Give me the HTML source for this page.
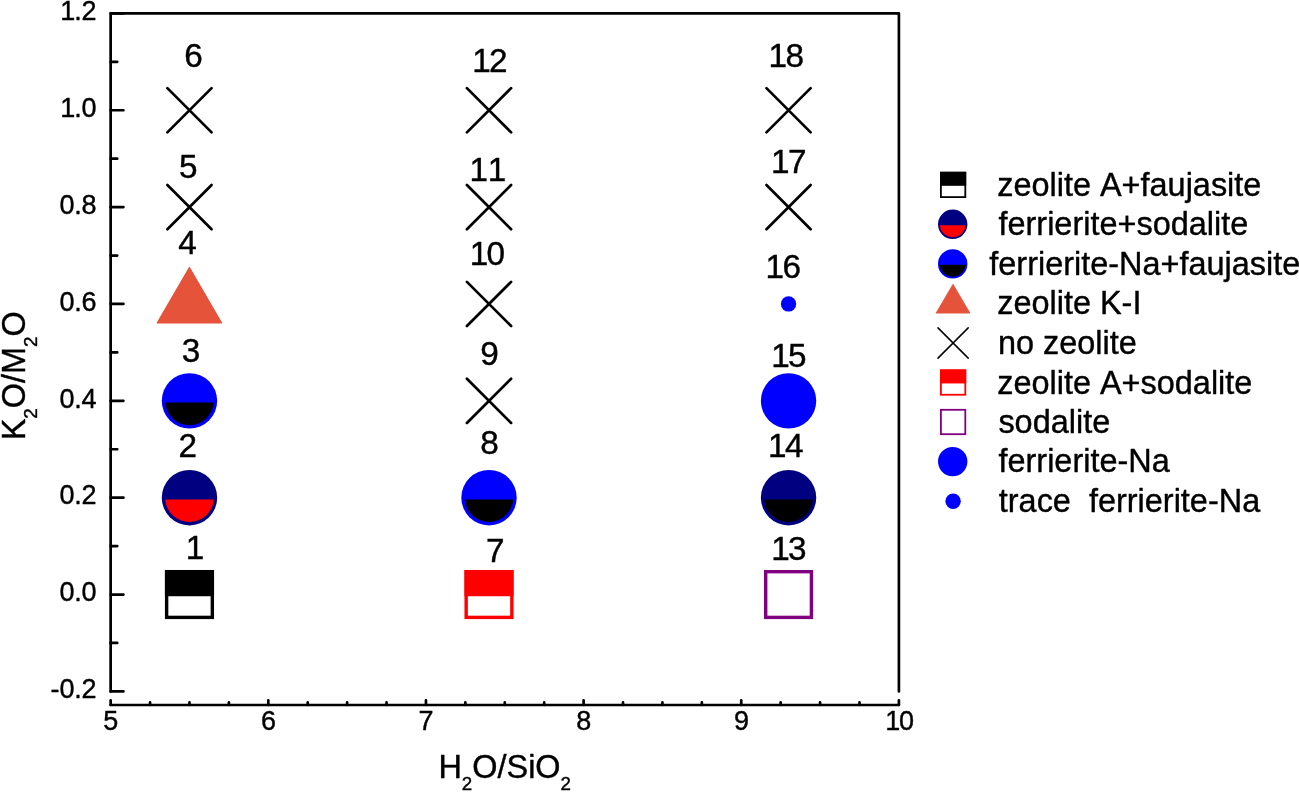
<!DOCTYPE html>
<html lang="en"><head><meta charset="utf-8"><title>K2O/M2O vs H2O/SiO2 zeolite phase chart</title>
<style>
html,body{margin:0;padding:0;background:#fff}
body{width:1299px;height:792px;overflow:hidden}
svg{display:block}
text{font-family:"Liberation Sans",Arial,Helvetica,sans-serif;fill:#000;stroke:#000;stroke-width:.4px;stroke-linejoin:round;font-kerning:none;white-space:pre}
.m{font-size:32.45px}
.t{font-size:26.55px}
.ax{stroke:#000;stroke-width:2.7;stroke-linecap:round;stroke-linejoin:round;fill:none}
</style></head><body>
<svg width="1299" height="792" viewBox="0 0 1299 792">
<rect width="1299" height="792" fill="#fff"/>

<g class="ax">
<path d="M110.65 691.4V13.4H898.9V691.4"/>
<path d="M110.65 705.0H898.9"/>
<path d="M110.65 691.40h12.8M110.65 642.97h6.6M110.65 594.54h12.8M110.65 546.11h6.6M110.65 497.69h12.8M110.65 449.26h6.6M110.65 400.83h12.8M110.65 352.40h6.6M110.65 303.97h12.8M110.65 255.54h6.6M110.65 207.11h12.8M110.65 158.69h6.6M110.65 110.26h12.8M110.65 61.83h6.6M110.65 13.40h12.8"/>
<path d="M110.65 705.0v-4.7M150.06 705.0v-2.6M189.48 705.0v-2.6M228.89 705.0v-2.6M268.30 705.0v-4.7M307.71 705.0v-2.6M347.12 705.0v-2.6M386.54 705.0v-2.6M425.95 705.0v-4.7M465.36 705.0v-2.6M504.77 705.0v-2.6M544.19 705.0v-2.6M583.60 705.0v-4.7M623.01 705.0v-2.6M662.42 705.0v-2.6M701.84 705.0v-2.6M741.25 705.0v-4.7M780.66 705.0v-2.6M820.07 705.0v-2.6M859.49 705.0v-2.6M898.90 705.0v-4.7"/>
</g>
<g class="t" style="font-size:27.0px">
<text x="50.6 59.4 74.2 81.5" y="698.1">-0.2</text>
<text x="59.4 74.2 81.5" y="601.2">0.0</text>
<text x="59.4 74.2 81.5" y="504.4">0.2</text>
<text x="59.4 74.2 81.5" y="407.5">0.4</text>
<text x="59.4 74.2 81.5" y="310.7">0.6</text>
<text x="59.4 74.2 81.5" y="213.8">0.8</text>
<text x="60.3 74.2 81.5" y="117.0">1.0</text>
<text x="60.3 74.2 81.5" y="20.1">1.2</text>
<text x="103.3" y="730.4">5</text>
<text x="261.0" y="730.4">6</text>
<text x="418.6" y="730.4">7</text>
<text x="576.3" y="730.4">8</text>
<text x="733.9" y="730.4">9</text>
<text x="885.2 899.0" y="730.4">10</text>
</g>
<text class="m" x="438.4" y="777.7">H<tspan font-size="18.8" dy="12.5">2</tspan><tspan dy="-12.5">O/SiO</tspan><tspan font-size="18.8" dy="12.5">2</tspan></text>
<text class="m" transform="translate(24.6 440.3) rotate(-90)">K<tspan font-size="18.8" dy="12.6">2</tspan><tspan dy="-12.6">O/M</tspan><tspan font-size="18.8" dy="12.6">2</tspan><tspan dy="-12.6">O</tspan></text>
<g>
<rect x="166.63" y="571.69" width="45.70" height="45.70" fill="#fff" stroke="#000" stroke-width="3.4"/><rect x="164.93" y="569.99" width="49.10" height="26.25" fill="#000"/>
<circle cx="189.48" cy="497.69" r="27.7" fill="#000080"/><path d="M165.23 499.39A24.30 24.30 0 0 0 213.72 499.39Z" fill="#ff0000"/>
<circle cx="189.48" cy="400.83" r="27.7" fill="#0000ff"/><path d="M165.23 402.53A24.30 24.30 0 0 0 213.72 402.53Z" fill="#000"/>
<path d="M189.40 267.60L221.50 322.90L157.30 322.90Z" fill="#e5533a" stroke="#e5533a" stroke-width="1.2" stroke-linejoin="round"/>
<path d="M167.38 185.01L211.58 229.21M167.38 229.21L211.58 185.01" stroke="#000" stroke-width="2.7" stroke-linecap="round" fill="none"/>
<path d="M167.38 88.16L211.58 132.36M167.38 132.36L211.58 88.16" stroke="#000" stroke-width="2.7" stroke-linecap="round" fill="none"/>
<rect x="466.16" y="571.69" width="45.70" height="45.70" fill="#fff" stroke="#ff0000" stroke-width="3.4"/><rect x="464.46" y="569.99" width="49.10" height="26.25" fill="#ff0000"/>
<circle cx="489.01" cy="497.69" r="27.7" fill="#0000ff"/><path d="M464.77 499.39A24.30 24.30 0 0 0 513.25 499.39Z" fill="#000"/>
<path d="M466.91 378.73L511.11 422.93M466.91 422.93L511.11 378.73" stroke="#000" stroke-width="2.7" stroke-linecap="round" fill="none"/>
<path d="M466.91 281.87L511.11 326.07M466.91 326.07L511.11 281.87" stroke="#000" stroke-width="2.7" stroke-linecap="round" fill="none"/>
<path d="M466.91 185.01L511.11 229.21M466.91 229.21L511.11 185.01" stroke="#000" stroke-width="2.7" stroke-linecap="round" fill="none"/>
<path d="M466.91 88.16L511.11 132.36M466.91 132.36L511.11 88.16" stroke="#000" stroke-width="2.7" stroke-linecap="round" fill="none"/>
<rect x="765.70" y="571.69" width="45.70" height="45.70" fill="#fff" stroke="#800080" stroke-width="3.4"/>
<circle cx="788.55" cy="497.69" r="27.7" fill="#000080"/><path d="M764.30 499.39A24.30 24.30 0 0 0 812.79 499.39Z" fill="#000"/>
<circle cx="788.55" cy="400.83" r="27.7" fill="#0000ff"/>
<circle cx="788.55" cy="303.97" r="7.65" fill="#0000ff"/>
<path d="M766.45 185.01L810.65 229.21M766.45 229.21L810.65 185.01" stroke="#000" stroke-width="2.7" stroke-linecap="round" fill="none"/>
<path d="M766.45 88.16L810.65 132.36M766.45 132.36L810.65 88.16" stroke="#000" stroke-width="2.7" stroke-linecap="round" fill="none"/>
</g>
<g class="m" style="font-size:33.3px">
<text x="185.7" y="559.1">1</text>
<text x="178.5" y="457.0">2</text>
<text x="181.8" y="362.0">3</text>
<text x="178.3" y="253.8">4</text>
<text x="178.9" y="178.2">5</text>
<text x="184.3" y="67.3">6</text>
<text x="486.1" y="562.3">7</text>
<text x="480.2" y="454.0">8</text>
<text x="480.2" y="365.0">9</text>
<text x="469.7 486.6" y="264.7">10</text>
<text x="469.6 487.7" y="180.8">11</text>
<text x="472.2 489.1" y="72.3">12</text>
<text x="771.2 788.1" y="559.6">13</text>
<text x="768.1 785.0" y="456.7">14</text>
<text x="771.2 788.1" y="367.3">15</text>
<text x="765.6 782.5" y="278.4">16</text>
<text x="771.0 787.9" y="172.6">17</text>
<text x="768.5 785.4" y="67.0">18</text>
</g>
<g>
<rect x="940.90" y="172.70" width="24.40" height="24.40" fill="#fff" stroke="#000" stroke-width="1.8"/><rect x="940.00" y="171.80" width="26.20" height="14.00" fill="#000"/>
<circle cx="952.70" cy="224.30" r="14.7" fill="#000080"/><path d="M939.83 225.20A12.90 12.90 0 0 0 965.57 225.20Z" fill="#ff0000"/>
<circle cx="952.70" cy="263.90" r="14.7" fill="#0000ff"/><path d="M939.83 264.80A12.90 12.90 0 0 0 965.57 264.80Z" fill="#000"/>
<path d="M953.00 284.30L969.90 313.10L936.10 313.10Z" fill="#e5533a" stroke="#e5533a" stroke-width="0.8" stroke-linejoin="round"/>
<path d="M938.00 327.90L968.20 358.10M938.00 358.10L968.20 327.90" stroke="#000" stroke-width="1.5" stroke-linecap="round" fill="none"/>
<rect x="940.90" y="370.35" width="24.40" height="24.40" fill="#fff" stroke="#ff0000" stroke-width="1.8"/><rect x="940.00" y="369.45" width="26.20" height="14.00" fill="#ff0000"/>
<rect x="940.90" y="409.80" width="24.40" height="24.40" fill="#fff" stroke="#800080" stroke-width="1.8"/>
<circle cx="952.70" cy="461.60" r="14.7" fill="#0000ff"/>
<circle cx="953.10" cy="501.30" r="7.7" fill="#0000ff"/>
</g>
<g class="m">
<text x="997.2" y="195.7" xml:space="preserve">zeolite A+faujasite</text>
<text x="998.5" y="235.4" xml:space="preserve">ferrierite+sodalite</text>
<text x="989.3" y="274.7" xml:space="preserve">ferrierite-Na+faujasite</text>
<text x="997.2" y="314.3" xml:space="preserve">zeolite K-I</text>
<text x="997.9" y="353.5" xml:space="preserve">no zeolite</text>
<text x="997.2" y="393.6" xml:space="preserve">zeolite A+sodalite</text>
<text x="998.4" y="432.7" xml:space="preserve">sodalite</text>
<text x="998.5" y="472.3" xml:space="preserve">ferrierite-Na</text>
<text x="998.8" y="512.4" xml:space="preserve">trace  ferrierite-Na</text>
</g>
</svg></body></html>
